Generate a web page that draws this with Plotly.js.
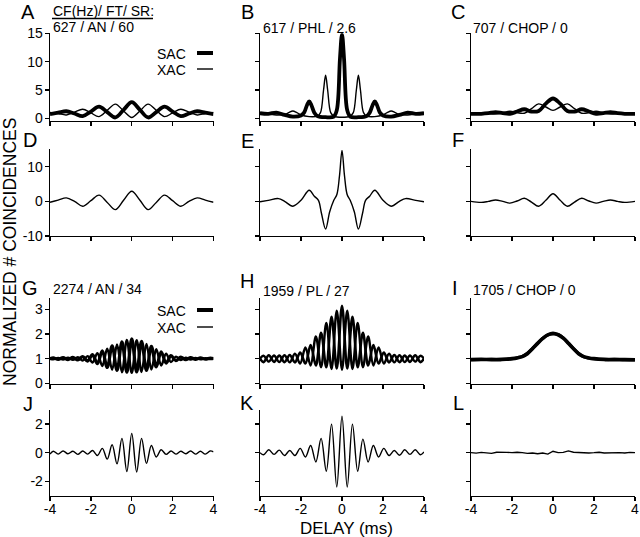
<!DOCTYPE html>
<html>
<head>
<meta charset="utf-8">
<script src="https://cdn.plot.ly/plotly-3.0.1.min.js"></script>
<style>html,body{margin:0;padding:0;background:#fff;}#chart{width:640px;height:537px;}</style>
</head>
<body>
<div id="chart"></div>
<script>
// ---------- DATA ----------
// Panel A / D : CF 627 Hz, AN
const delay_A = [-4,-3.6,-3.2,-2.8,-2.4,-2.0,-1.6,-1.2,-0.8,-0.4,0,0.4,0.8,1.2,1.6,2.0,2.4,2.8,3.2,3.6,4];
const sac_A = [0.75,1.0,1.25,0.85,0.4,1.2,2.05,1.1,0.15,1.5,2.85,1.5,0.15,1.1,2.05,1.2,0.4,0.85,1.25,1.0,0.75];
const xac_A = [1.05,0.85,0.6,1.1,1.6,0.95,0.3,1.4,2.5,1.3,0.15,1.3,2.5,1.4,0.3,0.95,1.6,1.1,0.6,0.85,1.05];
const dif_D = [-0.25,0.35,1.0,0.0,-1.4,0.2,1.8,-0.3,-2.4,0.3,2.9,0.3,-2.4,-0.3,1.8,0.2,-1.4,0.0,1.0,0.35,-0.25];

// Panel B / E : CF 617 Hz, PHL
const delay_Bs = [-4,-3.6,-3.2,-2.8,-2.4,-2.0,-1.85,-1.7,-1.6,-1.5,-1.35,-1.2,-0.8,-0.4,-0.25,-0.1,0,0.1,0.25,0.4,0.8,1.2,1.35,1.5,1.6,1.7,1.85,2.0,2.4,2.8,3.2,3.6,4];
const sac_B = [0.9,0.8,1.0,0.6,0.3,0.5,1.0,2.4,3.0,2.4,1.0,0.4,0.2,0.3,1.5,10.5,14.8,10.5,1.5,0.3,0.2,0.4,1.0,2.4,3.0,2.4,1.0,0.5,0.3,0.6,1.0,0.8,0.9];
const delay_Bx = [-4,-3.6,-3.2,-2.8,-2.6,-2.4,-2.2,-2.0,-1.6,-1.2,-1.05,-0.9,-0.8,-0.7,-0.55,-0.4,0,0.4,0.55,0.7,0.8,0.9,1.05,1.2,1.6,2.0,2.2,2.4,2.6,2.8,3.2,3.6,4];
const xac_B = [1.0,0.8,0.6,0.7,1.0,1.3,1.0,0.6,0.3,0.4,1.0,5.0,7.6,5.0,1.0,0.4,0.2,0.4,1.0,5.0,7.6,5.0,1.0,0.4,0.3,0.6,1.0,1.3,1.0,0.7,0.6,0.8,1.0];
const delay_E = [-4,-3.6,-3.1,-2.8,-2.4,-2.0,-1.6,-1.35,-1.15,-1.0,-0.8,-0.6,-0.4,-0.25,-0.12,0,0.12,0.25,0.4,0.6,0.8,1.0,1.15,1.35,1.6,2.0,2.4,2.8,3.1,3.6,4];
const dif_E = [-0.1,0.3,0.8,0.0,-1.4,0.3,3.2,1.5,0.3,-3.5,-8.0,-3.0,0.3,2.0,7.5,14.7,7.5,2.0,0.3,-3.0,-8.0,-3.5,0.3,1.5,3.2,0.3,-1.4,0.0,0.8,0.3,-0.1];

// Panel C / F : CF 707 Hz, CHOP
const delay_C = [-4,-3.5,-3.15,-2.8,-2.45,-2.1,-1.75,-1.4,-1.05,-0.7,-0.35,0,0.35,0.7,1.05,1.4,1.75,2.1,2.45,2.8,3.15,3.5,4];
const sac_C = [0.8,0.8,0.9,1.1,0.9,0.8,1.2,1.6,1.2,1.3,2.6,3.5,2.6,1.3,1.2,1.6,1.2,0.8,0.9,1.1,0.9,0.8,0.8];
const xac_C = [0.85,1.0,0.85,0.75,1.0,1.25,1.0,0.9,1.7,2.55,2.0,1.4,2.0,2.55,1.7,0.9,1.0,1.25,1.0,0.75,0.85,1.0,0.85];
const dif_F = [0.0,-0.3,0.0,0.4,0.0,-0.5,0.1,0.9,-0.2,-1.4,0.3,2.2,0.3,-1.4,-0.2,0.9,0.1,-0.5,0.0,0.4,0.0,-0.3,0.0];

// Panel G / J : CF 2274 Hz, AN
const delay_G = [-4,-3.84,-3.60,-3.36,-3.12,-2.88,-2.64,-2.40,-2.16,-1.92,-1.68,-1.44,-1.20,-0.96,-0.72,-0.48,-0.24,0,0.24,0.48,0.72,0.96,1.20,1.44,1.68,1.92,2.16,2.40,2.64,2.88,3.12,3.36,3.60,3.84,4];
const sac_G = [1.0,1.03,0.97,1.04,0.96,1.05,0.95,1.08,0.90,1.16,0.80,1.32,0.64,1.52,0.52,1.68,0.45,1.80,0.46,1.70,0.52,1.50,0.66,1.28,0.82,1.12,0.92,1.06,0.96,1.04,0.97,1.03,0.98,1.02,1.0];
const xac_G = [1.0,0.97,1.03,0.96,1.04,0.95,1.06,0.92,1.10,0.84,1.22,0.70,1.40,0.55,1.58,0.45,1.76,0.42,1.75,0.46,1.60,0.56,1.38,0.72,1.20,0.86,1.08,0.94,1.04,0.96,1.03,0.97,1.02,0.98,1.0];
const dif_J = [-0.1,0.1,-0.1,0.12,-0.08,0.1,-0.12,0.12,-0.1,0.15,-0.2,0.3,-0.45,0.55,-0.78,1.0,-1.32,1.35,-1.35,1.0,-0.75,0.5,-0.3,0.2,-0.12,0.12,-0.1,0.1,-0.08,0.12,-0.1,0.1,-0.1,0.12,0.05];

// Panel H / K : CF 1959 Hz, PL
const delay_H = [-4,-3.825,-3.57,-3.315,-3.06,-2.805,-2.55,-2.295,-2.04,-1.785,-1.53,-1.275,-1.02,-0.765,-0.51,-0.255,0,0.255,0.51,0.765,1.02,1.275,1.53,1.785,2.04,2.295,2.55,2.805,3.06,3.315,3.57,3.825,4];
const sac_H = [1.0,0.86,1.14,0.87,1.13,0.86,1.15,0.85,1.25,0.80,1.55,0.72,2.05,0.65,2.70,0.60,3.15,0.60,2.70,0.65,2.05,0.72,1.55,0.80,1.25,0.85,1.15,0.86,1.13,0.87,1.14,0.86,1.0];
const xac_H = [1.0,1.12,0.88,1.13,0.86,1.14,0.85,1.20,0.80,1.45,0.72,1.90,0.65,2.45,0.58,2.95,0.55,2.95,0.58,2.45,0.65,1.90,0.72,1.45,0.80,1.20,0.85,1.14,0.86,1.13,0.88,1.12,1.0];
const dif_K = [0.0,-0.15,0.2,-0.12,0.18,-0.2,0.15,-0.2,0.3,-0.3,0.5,-0.65,1.0,-1.3,2.0,-2.4,2.55,-2.4,2.0,-1.3,0.95,-0.65,0.5,-0.3,0.3,-0.2,0.15,-0.18,0.2,-0.12,0.2,-0.15,0.05];

// Panel I / L : CF 1705 Hz, CHOP
const delay_I = [-4,-3.5,-3,-2.5,-2,-1.75,-1.5,-1.25,-1,-0.75,-0.5,-0.25,0,0.25,0.5,0.75,1,1.25,1.5,1.75,2,2.5,3,3.5,4];
const sac_I = [0.96,0.97,0.96,0.97,1.0,1.03,1.08,1.2,1.4,1.62,1.82,1.97,2.03,1.97,1.83,1.62,1.4,1.2,1.08,1.03,1.0,0.97,0.96,0.96,0.95];
const xac_I = [0.95,0.96,0.97,0.96,0.99,1.04,1.09,1.22,1.42,1.63,1.83,1.96,2.0,1.98,1.84,1.63,1.41,1.21,1.07,1.02,0.99,0.96,0.97,0.95,0.96];
const delay_L = [-4,-3.75,-3.5,-3.25,-3,-2.75,-2.5,-2.25,-2,-1.75,-1.5,-1.25,-1,-0.75,-0.5,-0.25,0,0.25,0.5,0.75,1,1.25,1.5,1.75,2,2.25,2.5,2.75,3,3.25,3.5,3.75,4];
const dif_L = [0.0,-0.03,0.02,0.0,-0.05,0.03,0.05,0.02,0.0,0.03,0.0,-0.05,-0.02,-0.08,-0.03,-0.1,0.1,0.0,0.02,0.12,0.03,0.0,0.02,-0.02,0.0,0.03,-0.02,0.0,0.03,0.0,-0.02,0.02,0.0];

// Tick labels / text
const xTicks = [-4,-2,0,2,4];
const xTickText = ['-4','-2','0','2','4'];
const yTicksRow = [[0,5,10,15],[-10,0,10],[0,1,2,3],[-2,0,2]];
const yTickTextRow = [['0','5','10','15'],['-10','0','10'],['0','1','2','3'],['-2','0','2']];
const yRangeRow = [[-0.4,15],[-10,15],[-0.03,3.45],[-3,3]];
const panelLetters = ['A','B','C','D','E','F','G','H','I','J','K','L'];
const unitLabels = ['627 / AN / 60','617 / PHL / 2.6','707 / CHOP / 0','2274 / AN / 34','1959 / PL / 27','1705 / CHOP / 0'];

// ---------- LAYOUT ----------
const W = 640, H = 537;
const FONT = 'Liberation Sans, Arial, Helvetica, sans-serif';
const colPx = [[50,213.5],[260,424],[471,635]];
const rowPx = [[33.3,120.6],[149.4,236],[298.3,384],[409.8,495.5]];
const px = v => v / W;
const py = v => 1 - v / H;

const layout = {
  width: W, height: H,
  margin: {l:0, r:0, t:0, b:0},
  paper_bgcolor: '#fff', plot_bgcolor: '#fff',
  showlegend: false,
  font: {family: FONT, color: '#000', size: 14},
  annotations: [], shapes: []
};

for (let i = 0; i < 12; i++) {
  const r = Math.floor(i / 3), c = i % 3;
  const sfx = i === 0 ? '' : String(i + 1);
  layout['xaxis' + sfx] = {
    domain: [px(colPx[c][0]), px(colPx[c][1])],
    anchor: 'y' + sfx, range: [-4, 4],
    tickvals: xTicks, ticktext: xTickText, showticklabels: r === 3,
    ticks: 'outside', ticklen: 4, tickwidth: 1.3, tickcolor: '#000',
    ticklabelstandoff: -4,
    showline: true, linecolor: '#000', linewidth: 1.3,
    showgrid: false, zeroline: false, fixedrange: true,
    tickfont: {family: FONT, size: 14, color: '#000'}
  };
  layout['yaxis' + sfx] = {
    domain: [py(rowPx[r][1]), py(rowPx[r][0])],
    anchor: 'x' + sfx, range: yRangeRow[r],
    tickvals: yTicksRow[r], ticktext: yTickTextRow[r], showticklabels: c === 0,
    ticks: 'outside', ticklen: 4, tickwidth: 1.3, tickcolor: '#000',
    ticklabelstandoff: -1,
    showline: true, linecolor: '#000', linewidth: 1.3,
    showgrid: false, zeroline: false, fixedrange: true,
    tickfont: {family: FONT, size: 14, color: '#000'}
  };
}

// ---------- TRACES ----------
function tr(i, x, y, w, shape) {
  const sfx = i === 0 ? '' : String(i + 1);
  return {x: x, y: y, xaxis: 'x' + sfx, yaxis: 'y' + sfx, type: 'scatter', mode: 'lines',
          line: {color: '#000', width: w, shape: shape || 'spline', smoothing: 1}, hoverinfo: 'skip'};
}
const THICK = 3.8, THIN = 1.4;
const data = [
  tr(0, delay_A, sac_A, THICK), tr(0, delay_A, xac_A, THIN),
  tr(1, delay_Bs, sac_B, THICK), tr(1, delay_Bx, xac_B, THIN),
  tr(2, delay_C, sac_C, THICK), tr(2, delay_C, xac_C, THIN),
  tr(3, delay_A, dif_D, THIN),
  tr(4, delay_E, dif_E, THIN),
  tr(5, delay_C, dif_F, THIN),
  tr(6, delay_G, sac_G, 3.2), tr(6, delay_G, xac_G, 2.4),
  tr(7, delay_H, sac_H, 2.6), tr(7, delay_H, xac_H, 2.4),
  tr(8, delay_I, sac_I, 3.6), tr(8, delay_I, xac_I, 3.0),
  tr(9, delay_G, dif_J, THIN),
  tr(10, delay_H, dif_K, THIN),
  tr(11, delay_L, dif_L, THIN, 'linear')
];

// ---------- ANNOTATIONS ----------
function txt(t, x, y, size, xanchor, extra) {
  layout.annotations.push(Object.assign({
    text: t, xref: 'paper', yref: 'paper', x: px(x), y: py(y),
    xanchor: xanchor || 'center', yanchor: 'middle', showarrow: false,
    font: {family: FONT, size: size, color: '#000'}
  }, extra || {}));
}
const letterPos = [[28,12],[247,12],[458,12],[30,140],[247,141],[458,140],[30,288],[247,281],[455,288],[28,404],[247,403],[458,403]];
panelLetters.forEach((L, i) => txt(L, letterPos[i][0], letterPos[i][1], 20, 'center'));

txt('CF(Hz)/ FT/ SR:', 51, 11, 14, 'left');
layout.shapes.push({type:'line', xref:'paper', yref:'paper', x0:px(52), x1:px(153), y0:py(18.5), y1:py(18.5), line:{color:'#000', width:1.3}});
const unitPos = [[51,27],[261,28],[471,28],[51,289],[261,291],[471,290]];
unitLabels.forEach((t, i) => txt(t, unitPos[i][0], unitPos[i][1], 14, 'left'));

// legends (panels A and G)
[[54,70],[311,328]].forEach(pair => {
  txt('SAC', 188, pair[0], 14, 'right');
  txt('XAC', 188, pair[1], 14, 'right');
  layout.shapes.push({type:'line', xref:'paper', yref:'paper', x0:px(197), x1:px(213), y0:py(pair[0]-1), y1:py(pair[0]-1), line:{color:'#000', width:4}});
  layout.shapes.push({type:'line', xref:'paper', yref:'paper', x0:px(197), x1:px(213), y0:py(pair[1]-1), y1:py(pair[1]-1), line:{color:'#000', width:1.4}});
});

txt('NORMALIZED # COINCIDENCES', 10, 252, 17.5, 'center', {textangle: -90});
txt('DELAY (ms)', 346, 528, 17, 'center');

Plotly.newPlot('chart', data, layout, {staticPlot: true, displayModeBar: false});
</script>
</body>
</html>
